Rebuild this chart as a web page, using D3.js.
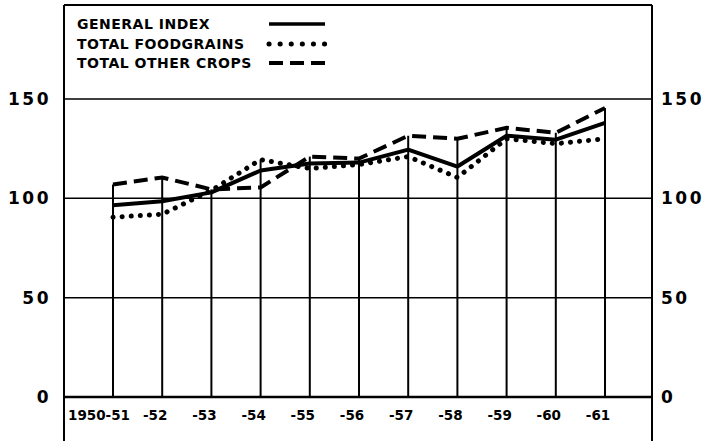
<!DOCTYPE html>
<html><head><meta charset="utf-8">
<script src="https://cdn.jsdelivr.net/npm/d3@7"></script>
<style>body{margin:0;background:#fff}svg{display:block}</style>
</head><body>
<script>
const categories = ["1950-51","-52","-53","-54","-55","-56","-57","-58","-59","-60","-61"];
const generalIndex = [96.5, 98.5, 103, 114, 117.5, 118, 124.5, 116, 131.5, 129.5, 138];
const foodgrains   = [90.5, 92, 104, 119.5, 115, 117, 121, 110.5, 130, 127.5, 130];
const otherCrops   = [107, 110.5, 104.5, 105.5, 121, 120, 131.5, 130, 135.5, 133, 145.5];
const yTicks = [0, 50, 100, 150];
const legendLabels = ["GENERAL INDEX", "TOTAL FOODGRAINS", "TOTAL OTHER CROPS"];

const W = 709, H = 441;
const frame = {left: 64, right: 652, top: 5};
const svg = d3.select("body").append("svg").attr("width", W).attr("height", H);

const x = d3.scalePoint().domain(categories).range([113, 605]);
const y = d3.scaleLinear().domain([0, 150]).range([397, 99]);

// frame
svg.append("line").attr("x1", frame.left).attr("x2", frame.left).attr("y1", frame.top).attr("y2", H)
  .attr("stroke", "#000").attr("stroke-width", 2);
svg.append("line").attr("x1", frame.right).attr("x2", frame.right).attr("y1", frame.top).attr("y2", H)
  .attr("stroke", "#000").attr("stroke-width", 2);
svg.append("line").attr("x1", frame.left).attr("x2", frame.right).attr("y1", frame.top).attr("y2", frame.top)
  .attr("stroke", "#000").attr("stroke-width", 2);

// gridlines
svg.selectAll("line.grid").data(yTicks).enter().append("line")
  .attr("x1", frame.left).attr("x2", frame.right)
  .attr("y1", d => y(d)).attr("y2", d => y(d))
  .attr("stroke", "#000").attr("stroke-width", d => d === 0 ? 2.5 : 1.5);

// y labels left and right
function yLabel(sel) {
  sel.style("font-family", "DejaVu Sans, sans-serif").style("font-weight", "bold")
     .style("font-size", "17px").style("letter-spacing", "2.5px");
}
svg.selectAll("text.yl").data(yTicks).enter().append("text")
  .attr("x", 51).attr("y", d => y(d)).attr("dy", "0.36em").attr("text-anchor", "end")
  .call(yLabel).text(d => d);
svg.selectAll("text.yr").data(yTicks).enter().append("text")
  .attr("x", 661).attr("y", d => y(d)).attr("dy", "0.36em").attr("text-anchor", "start")
  .call(yLabel).text(d => d);

// drop lines to highest series value
const maxVals = categories.map((c, i) => Math.max(generalIndex[i], foodgrains[i], otherCrops[i]));
svg.selectAll("line.drop").data(categories).enter().append("line")
  .attr("x1", d => x(d)).attr("x2", d => x(d))
  .attr("y1", y(0)).attr("y2", (d, i) => y(maxVals[i]))
  .attr("stroke", "#000").attr("stroke-width", 2);

// x labels
svg.selectAll("text.xl").data(categories).enter().append("text")
  .attr("x", (d, i) => x(d) - (i === 0 ? 14 : 7)).attr("y", 415).attr("dy", "0.36em")
  .attr("text-anchor", "middle")
  .style("font-family", "DejaVu Sans, sans-serif").style("font-weight", "bold").style("font-size", "13.5px")
  .text(d => d);

// series
const line = d3.line().x((d, i) => x(categories[i])).y(d => y(d));
svg.append("path").datum(otherCrops).attr("d", line).attr("fill", "none")
  .attr("stroke", "#000").attr("stroke-width", 4).attr("stroke-dasharray", "14 7");
svg.append("path").datum(foodgrains).attr("d", line).attr("fill", "none")
  .attr("stroke", "#000").attr("stroke-width", 5).attr("stroke-linecap", "round").attr("stroke-dasharray", "0.1 9");
svg.append("path").datum(generalIndex).attr("d", line).attr("fill", "none")
  .attr("stroke", "#000").attr("stroke-width", 4).attr("stroke-linejoin", "round");

// legend
const legY = [24, 44, 63];
const legStyles = [
  {w: 3.5, dash: null, cap: "butt"},
  {w: 5, dash: "0.1 11", cap: "round"},
  {w: 4, dash: "14 7", cap: "butt"}
];
legendLabels.forEach((t, i) => {
  svg.append("text").attr("x", 77).attr("y", legY[i]).attr("dy", "0.36em")
    .style("font-family", "DejaVu Sans, sans-serif").style("font-weight", "bold").style("font-size", "14px")
    .style("letter-spacing", "0.5px")
    .text(t);
  const l = svg.append("line").attr("x1", 269).attr("x2", 325).attr("y1", legY[i]).attr("y2", legY[i])
    .attr("stroke", "#000").attr("stroke-width", legStyles[i].w).attr("stroke-linecap", legStyles[i].cap);
  if (legStyles[i].dash) l.attr("stroke-dasharray", legStyles[i].dash);
});
</script>
</body></html>
